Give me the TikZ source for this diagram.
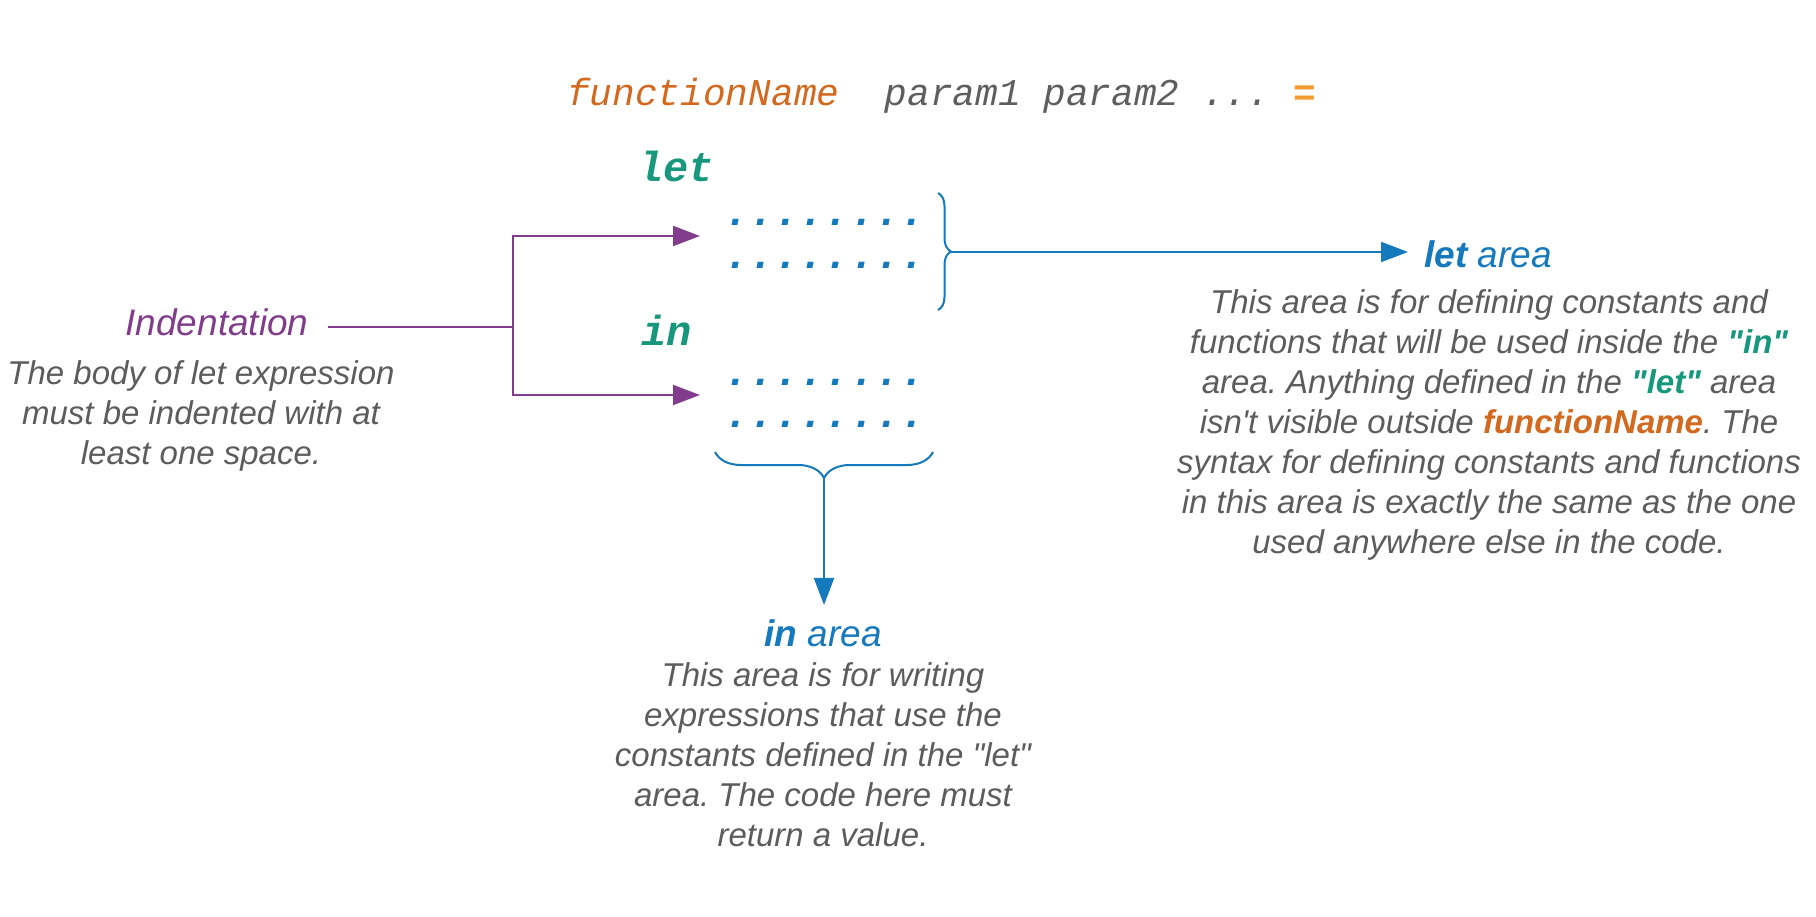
\documentclass[tikz,border=0pt]{standalone}
\usepackage{fontspec}
\newfontfamily\notefont{Liberation Sans}
\newfontfamily\codefont{Liberation Mono}
\usetikzlibrary{arrows.meta,positioning,decorations.pathreplacing}
\definecolor{fnorange}{HTML}{D2691E}
\definecolor{eqorange}{HTML}{F29B30}
\definecolor{paramgray}{HTML}{5E5E5E}
\definecolor{kwteal}{HTML}{17977C}
\definecolor{areablue}{HTML}{1479BD}
\definecolor{indentpurple}{HTML}{813D8B}
\definecolor{ink}{HTML}{5C5C5C}
\newcommand{\kwq}[1]{\textcolor{kwteal}{\textbf{#1}}}
\frenchspacing

\begin{document}
\begin{tikzpicture}[x=1pt,y=-1pt,code/.style={font=\codefont\itshape\fontsize{37.8}{44}\selectfont,inner sep=0pt},kw/.style={font=\codefont\bfseries\itshape\fontsize{42}{48}\selectfont,text=kwteal,inner sep=0pt},rows/.style={font=\codefont\bfseries\itshape\fontsize{42}{48}\selectfont,text=areablue,inner sep=0pt},head/.style={font=\notefont\itshape\fontsize{37}{44}\selectfont,inner sep=0pt},note/.style={font=\notefont\itshape\fontsize{33}{40}\selectfont,text=ink,align=center,inner sep=0pt,anchor=north},wire/.style={line width=2pt},arrow/.style={wire,-{Triangle[length=27pt,width=20pt]}},curly/.style={wire,decorate,decoration={brace,amplitude=#1}}]
 \useasboundingbox (0,0) rectangle (1816,917);
 \node[code,anchor=base west] (title) at (567,106) {\textcolor{fnorange}{functionName}\textcolor{paramgray}{~~param1 param2 ...~}\textcolor{eqorange}{\bfseries =}};
 \node[kw,anchor=base west] (let) at (638,182) {let};
 \node[rows,anchor=base] (letrow1) at (825,226) {........};
 \node[rows,anchor=base] (letrow2) at (825,269) {........};
 \node[kw,anchor=base west] (in) at (641,346) {in};
 \node[rows,anchor=base] (inrow1) at (825,385) {........};
 \node[rows,anchor=base] (inrow2) at (825,428) {........};
 % braces round the two areas
 \draw[curly=13pt,areablue] (938,193)--(938,310);
 \coordinate (lettip) at (951,252);
 \draw[curly=26pt,areablue] (933,452)--(715,452);
 \coordinate (intip) at (824,478);
 \node[head,text=areablue,anchor=base west] (letarea) at (1424,268) {\textbf{let} area};
 \draw[arrow,areablue,shorten >=16pt] (lettip)--(lettip -| letarea.west);
 \node[note] (letnote) at (1489,289) {This area is for defining constants and\\functions that will be used inside the \kwq{"in"}\\area. Anything defined in the \kwq{"let"} area\\isn't visible outside \textcolor{fnorange}{\textbf{functionName}}. The\\syntax for defining constants and functions\\in this area is exactly the same as the one\\used anywhere else in the code.};
 \node[head,text=areablue,anchor=base] (inarea) at (823,646) {\textbf{in} area};
 \draw[arrow,areablue,shorten >=14pt] (intip)--(intip |- inarea.north);
 \node[note] (innote) at (823,662) {This area is for writing\\expressions that use the\\constants defined in the "let"\\area. The code here must\\return a value.};
 % indentation fork
 \node[head,text=indentpurple] (indent) at (217,322) {Indentation};
 \node[note] (indentnote) at (201,360) {The body of let expression\\must be indented with at\\least one space.};
 \coordinate (fork) at (513,327);
 \coordinate (letgap) at (700,236);
 \coordinate (ingap) at (700,395);
 \draw[wire,indentpurple] (indent.east |- fork)++(19,0)--(fork);
 \draw[arrow,indentpurple] (fork)|-(letgap);
 \draw[arrow,indentpurple] (fork)|-(ingap);
\end{tikzpicture}
\end{document}
